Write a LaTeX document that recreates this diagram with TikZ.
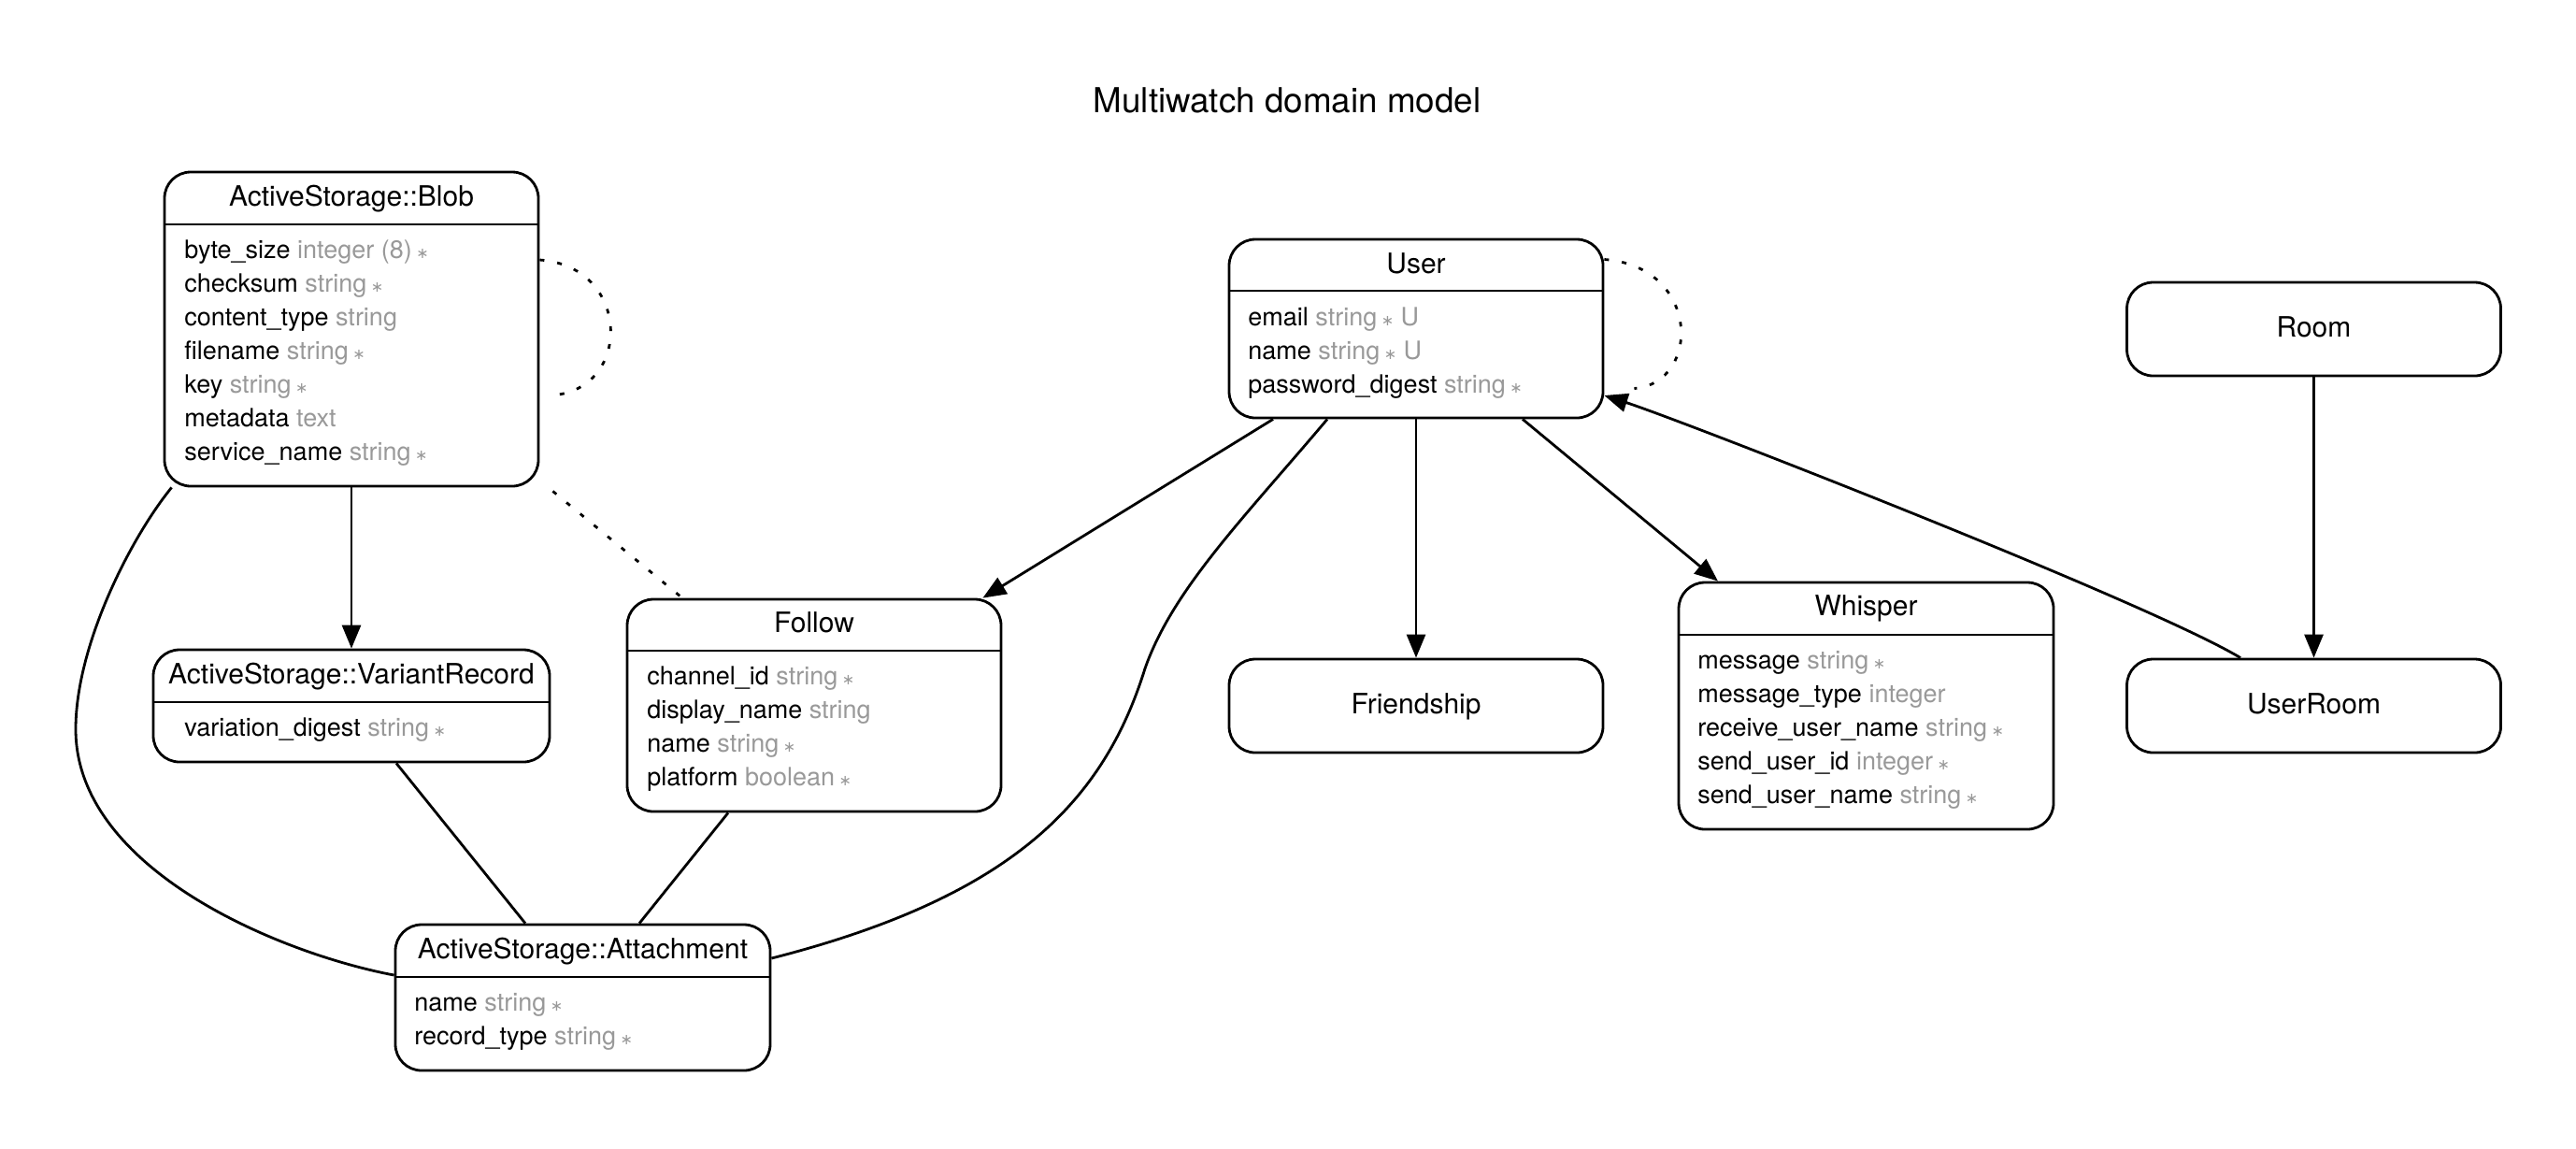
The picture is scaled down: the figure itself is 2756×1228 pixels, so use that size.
\documentclass[tikz,border=0pt]{standalone}
\usepackage{fontspec}
\setmainfont{TeX Gyre Heros}
\newfontfamily\djv{DejaVu Sans}
\usetikzlibrary{arrows.meta}
\definecolor{typegray}{HTML}{999999}
\newcommand\typ[1]{\textcolor{typegray}{#1}}
\newcommand\reqm{\textcolor{typegray}{\,{\djv\fontsize{8pt}{8pt}\selectfont ∗}}}
\tikzset{
  entity/.style={draw, line width=1.4pt, rounded corners=14pt, inner sep=0pt},
  hdr/.style={font=\fontsize{15pt}{16pt}\selectfont, inner sep=0pt, anchor=base},
  attr/.style={font=\fontsize{13.5pt}{15pt}\selectfont, inner sep=0pt, anchor=base west},
  ttl/.style={font=\fontsize{18.4pt}{20pt}\selectfont, inner sep=0pt, anchor=base},
  rel/.style={line width=1.4pt},
  arr/.style={rel, -{Triangle[length=12.5pt,width=10pt]}},
  dots/.style={line width=1.4pt, dash pattern=on 2.5pt off 7pt},
}
\begin{document}
\begin{tikzpicture}[x=0.5pt, y=-0.5pt]
\useasboundingbox[fill=white] (0,0) rectangle (2756,1228);

\node[ttl] (title) at (1377,120) {Multiwatch domain model};

% ---- entity boxes
\node[entity, minimum width=200pt, minimum height=168pt] (blob) at (376,352) {};
\node[entity, minimum width=212pt, minimum height=60pt] (vr) at (376,755) {};
\node[entity, minimum width=200pt, minimum height=113.5pt] (follow) at (871,754.5) {};
\node[entity, minimum width=200.5pt, minimum height=78pt] (att) at (623.5,1067) {};
\node[entity, minimum width=200pt, minimum height=95.5pt] (user) at (1515,351.5) {};
\node[entity, minimum width=200pt, minimum height=50pt] (friendship) at (1515,755) {};
\node[entity, minimum width=200.5pt, minimum height=132pt] (whisper) at (1996.5,755) {};
\node[entity, minimum width=200pt, minimum height=50pt] (room) at (2475.5,352) {};
\node[entity, minimum width=200pt, minimum height=50pt] (userroom) at (2475.5,755) {};

% ---- header separators
\draw[rel] (176,240) -- (576,240);
\draw[rel] (164,751) -- (588,751);
\draw[rel] (671,696) -- (1071,696);
\draw[rel] (423,1045) -- (824,1045);
\draw[rel] (1315,311) -- (1715,311);
\draw[rel] (1796,679) -- (2197,679);

% ---- headers
\node[hdr] (blob-h) at (376,220) {ActiveStorage::Blob};
\node[hdr] (vr-h) at (376,731) {ActiveStorage::VariantRecord};
\node[hdr] (follow-h) at (871,676) {Follow};
\node[hdr] (att-h) at (623.5,1025) {ActiveStorage::Attachment};
\node[hdr] (user-h) at (1515,292) {User};
\node[hdr] (whisper-h) at (1996.5,658) {Whisper};
\node[hdr] (friendship-h) at (1515,763) {Friendship};
\node[hdr] (room-h) at (2475.5,360) {Room};
\node[hdr] (userroom-h) at (2475.5,763) {UserRoom};

% ---- attributes
\node[attr] (blob-a1) at (197,276) {byte\_size \typ{integer (8)}\reqm};
\node[attr] (blob-a2) at (197,312) {checksum \typ{string}\reqm};
\node[attr] (blob-a3) at (197,348) {content\_type \typ{string}};
\node[attr] (blob-a4) at (197,384) {filename \typ{string}\reqm};
\node[attr] (blob-a5) at (197,420) {key \typ{string}\reqm};
\node[attr] (blob-a6) at (197,456) {metadata \typ{text}};
\node[attr] (blob-a7) at (197,492) {service\_name \typ{string}\reqm};

\node[attr] (vr-a1) at (197,787) {variation\_digest \typ{string}\reqm};

\node[attr] (follow-a1) at (692,732) {channel\_id \typ{string}\reqm};
\node[attr] (follow-a2) at (692,768) {display\_name \typ{string}};
\node[attr] (follow-a3) at (692,804) {name \typ{string}\reqm};
\node[attr] (follow-a4) at (692,840) {platform \typ{boolean}\reqm};

\node[attr] (att-a1) at (443,1081) {name \typ{string}\reqm};
\node[attr] (att-a2) at (443,1117) {record\_type \typ{string}\reqm};

\node[attr] (user-a1) at (1335,348) {email \typ{string}\reqm\ \typ{U}};
\node[attr] (user-a2) at (1335,384) {name \typ{string}\reqm\ \typ{U}};
\node[attr] (user-a3) at (1335,420) {password\_digest \typ{string}\reqm};

\node[attr] (whisper-a1) at (1816,715) {message \typ{string}\reqm};
\node[attr] (whisper-a2) at (1816,751) {message\_type \typ{integer}};
\node[attr] (whisper-a3) at (1816,787) {receive\_user\_name \typ{string}\reqm};
\node[attr] (whisper-a4) at (1816,823) {send\_user\_id \typ{integer}\reqm};
\node[attr] (whisper-a5) at (1816,859) {send\_user\_name \typ{string}\reqm};

% ---- connectors
\draw[arr] (blob) -- (vr);
\draw[arr] (user) -- (friendship);
\draw[arr] (room) -- (userroom);
\draw[arr] ([xshift=-76.5pt]user.south) -- ([xshift=-10.5pt]follow.north east);
\draw[arr] ([xshift=57pt]user.south) -- ([xshift=-79.25pt]whisper.north);
\draw[dots] ([xshift=7pt,yshift=-2pt]blob.south east) -- ([xshift=-70.5pt]follow.north);
\draw[rel] ([xshift=24pt]vr.south) -- ([xshift=-30.75pt]att.north);
\draw[rel] ([xshift=-46pt]follow.south) -- ([xshift=30.25pt]att.north);
\draw[rel] ([xshift=4.5pt]blob.south west) .. controls (140,575) and (81,690) .. (81,780)
  .. controls (81,930) and (300,1020) .. ([yshift=12pt]att.west);
\draw[rel] ([xshift=-47.5pt]user.south) .. controls (1330,555) and (1255,630) .. (1225,715)
  .. controls (1180,860) and (1080,960) .. ([yshift=21pt]att.east);
\draw[dots] ([yshift=37pt]blob.east) .. controls (677,285) and (677,420) .. ([xshift=5pt,yshift=-35.5pt]blob.east);
\draw[dots] ([yshift=37pt]user.east) .. controls (1820,285) and (1820,410) .. ([xshift=16pt,yshift=-32pt]user.east);
\draw[arr] ([xshift=-39.25pt]userroom.north) .. controls (2300,645) and (1800,450) .. ([yshift=-35.75pt]user.east);
\end{tikzpicture}
\end{document}
